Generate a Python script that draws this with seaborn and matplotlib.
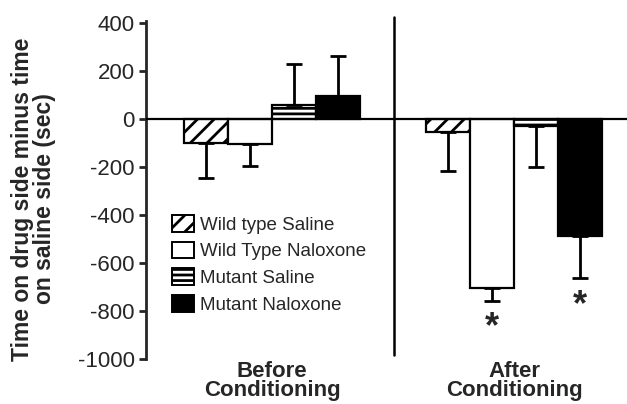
import numpy as np
import pandas as pd
import seaborn as sns
import matplotlib
matplotlib.use("Agg")
import matplotlib.pyplot as plt
from matplotlib.patches import Patch

# Data
phases = ["Before\nConditioning", "After\nConditioning"]
groups = ["Wild type Saline", "Wild Type Naloxone", "Mutant Saline", "Mutant Naloxone"]
before_means = [-100, -104, 60, 96]
after_means = [-54, -707, -30, -490]
before_err = [145, 90, 170, 168]
after_err = [164, 53, 170, 172]
fills = ["white", "white", "white", "black"]
hatches = ["//", "", "---", ""]
yticks = [-1000, -800, -600, -400, -200, 0, 200, 400]

df = pd.DataFrame({
    "phase": [phases[0]] * 4 + [phases[1]] * 4,
    "group": groups * 2,
    "value": before_means + after_means,
    "err": before_err + after_err,
})

sns.set_style("ticks")
plt.rcParams["font.family"] = ["Liberation Sans", "DejaVu Sans"]
plt.rcParams["hatch.linewidth"] = 2.0
plt.rcParams["hatch.color"] = "black"

fig = plt.figure(figsize=(6.27, 4.04), dpi=100)
ax = fig.add_axes([0.2329, 0.1121, 1 - 0.2329, 0.8366])

sns.barplot(data=df, x="phase", y="value", hue="group", hue_order=groups,
            order=phases, palette=fills, saturation=1, width=0.73,
            edgecolor="black", linewidth=1.6, errorbar=None, legend=False, ax=ax)

bar_conts = list(ax.containers)

# hatches + one-sided error bars
for i, cont in enumerate(bar_conts):
    for j, bar in enumerate(cont.patches):
        bar.set_hatch(hatches[i])
        xc = bar.get_x() + bar.get_width() / 2
        h = bar.get_height()
        e = df[(df.phase == phases[j]) & (df.group == groups[i])]["err"].iloc[0]
        yerr = [[0], [e]] if h > 0 else [[e], [0]]
        ax.errorbar(xc, h, yerr=yerr, fmt="none", ecolor="black",
                    elinewidth=2, capsize=6, capthick=2, zorder=1)
        if j == 1 and i in (1, 3):
            ystar = -872 if i == 1 else -780
            ax.text(xc, ystar, "*", ha="center", va="center",
                    fontsize=26, fontweight="bold")

ax.axhline(0, color="black", lw=1.6, zorder=3)
ax.plot([0.504, 0.504], [-985, 424], color="black", lw=1.8, clip_on=False)

ax.set_xlim(-0.521, 1.467)
ax.set_ylim(-1000, 410)
ax.set_yticks(yticks)
ax.set_yticklabels([str(t) for t in yticks], fontsize=16)
ax.tick_params(axis="y", length=5, width=2, pad=3)
ax.tick_params(axis="x", length=0, pad=1.5)
ax.set_xticks([0, 1])
ax.set_xticklabels(phases, fontsize=16, fontweight="bold", linespacing=0.88)
for s in ["top", "right", "bottom"]:
    ax.spines[s].set_visible(False)
ax.spines["left"].set_linewidth(2)

ax.set_xlabel("")
ax.set_ylabel("Time on drug side minus time\non saline side (sec)",
              fontsize=16.5, fontweight="bold", linespacing=0.95)
ax.yaxis.set_label_coords(-0.187, 0.4725)

handles = [Patch(facecolor=f, edgecolor="black", hatch=h, linewidth=1.4)
           for f, h in zip(fills, hatches)]
ax.legend(handles, groups, loc="upper left",
          bbox_to_anchor=(172 / 627, 1 - 215 / 404), bbox_transform=fig.transFigure,
          frameon=False, borderpad=0, borderaxespad=0, handlelength=1.15,
          handleheight=1.0, handletextpad=0.35, labelspacing=0.42, fontsize=13.5)

fig.savefig("out.png", dpi=100)
